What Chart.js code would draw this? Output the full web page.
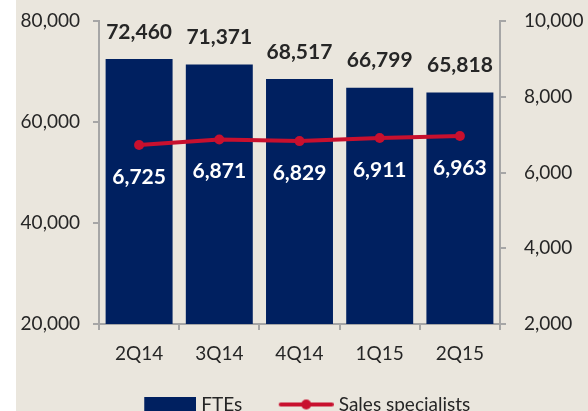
<!DOCTYPE html>
<html>
<head>
<meta charset="utf-8">
<script src="https://cdn.jsdelivr.net/npm/chart.js@4/dist/chart.umd.min.js"></script>
<style>
  html, body { margin: 0; padding: 0; background: #fff; overflow: hidden; }
  #wrap { position: absolute; left: 16px; top: 0; width: 572px; height: 425px; background: #EAE6DD; }
</style>
</head>
<body>
<div id="wrap"><canvas id="chart" width="572" height="425"></canvas></div>
<script>
const quarters = ["2Q14", "3Q14", "4Q14", "1Q15", "2Q15"];
const ftes = [72460, 71371, 68517, 66799, 65818];
const salesSpecialists = [6725, 6871, 6829, 6911, 6963];
const leftTicks = [20000, 40000, 60000, 80000];
const rightTicks = [2000, 4000, 6000, 8000, 10000];

const NAVY = "#002060";
const RED = "#C8102E";
const TEXT = "#262626";
const AXIS = "#A6A6A6";
const FONT = "Lato, 'Open Sans', sans-serif";

// legend swatches (transparent on the left so the marker sits close to its text)
function makeBox() {
  const c = document.createElement("canvas");
  c.width = 67; c.height = 15;
  const g = c.getContext("2d");
  g.fillStyle = NAVY;
  g.fillRect(15, 0, 52, 15);
  return c;
}
function makeLine() {
  const c = document.createElement("canvas");
  c.width = 67; c.height = 12;
  const g = c.getContext("2d");
  g.strokeStyle = RED; g.lineWidth = 4; g.lineCap = "round";
  g.beginPath(); g.moveTo(14, 6); g.lineTo(65, 6); g.stroke();
  g.fillStyle = RED;
  g.beginPath(); g.arc(39.5, 6, 5, 0, Math.PI * 2); g.fill();
  return c;
}

const valueLabels = {
  id: "valueLabels",
  afterDatasetsDraw(chart) {
    const ctx = chart.ctx;
    ctx.save();
    ctx.textAlign = "center";
    ctx.textBaseline = "middle";
    ctx.font = "bold 21px " + FONT;
    chart.getDatasetMeta(0).data.forEach((bar, i) => {
      ctx.fillStyle = TEXT;
      ctx.fillText(ftes[i].toLocaleString("en-US"), bar.x, bar.y - 27);
    });
    chart.getDatasetMeta(1).data.forEach((pt, i) => {
      ctx.fillStyle = "#fff";
      ctx.fillText(salesSpecialists[i].toLocaleString("en-US"), pt.x, pt.y + 32);
    });
    ctx.restore();
  },
};

// y axes: fixed width, no extra vertical padding from tick padding
function fitY(width) {
  return (s) => {
    s.width = width;
    s.paddingTop = 0;
    s.paddingBottom = 0;
  };
}

const ctx = document.getElementById("chart").getContext("2d");
new Chart(ctx, {
  type: "bar",
  data: {
    labels: quarters,
    datasets: [
      {
        label: "FTEs",
        data: ftes,
        backgroundColor: NAVY,
        barPercentage: 0.835,
        categoryPercentage: 1,
        yAxisID: "y",
        order: 1,
      },
      {
        type: "line",
        label: "Sales specialists",
        data: salesSpecialists,
        borderColor: RED,
        backgroundColor: RED,
        borderWidth: 4,
        pointRadius: 5,
        pointBackgroundColor: RED,
        pointBorderWidth: 0,
        yAxisID: "y1",
        order: 0,
      },
    ],
  },
  options: {
    responsive: false,
    animation: false,
    layout: { padding: { top: 21, left: 0, right: 0, bottom: 1 } },
    plugins: {
      tooltip: { enabled: false },
      legend: {
        position: "bottom",
        labels: {
          usePointStyle: true,
          pointStyleWidth: 58,
          padding: 29,
          color: TEXT,
          font: { family: FONT, size: 19 },
          sort: (a, b) => a.datasetIndex - b.datasetIndex,
          generateLabels(chart) {
            const items = Chart.defaults.plugins.legend.labels.generateLabels(chart);
            items.forEach((it) => {
              it.pointStyle = it.datasetIndex === 0 ? makeBox() : makeLine();
            });
            return items;
          },
        },
      },
    },
    scales: {
      x: {
        afterFit: (s) => { s.height = 42; },
        grid: { display: true, drawOnChartArea: false, drawTicks: true, tickLength: 6, color: AXIS, lineWidth: 2, offset: true },
        border: { display: true, color: AXIS, width: 2 },
        ticks: { color: TEXT, font: { family: FONT, size: 19 }, padding: 12 },
      },
      y: {
        position: "left",
        min: leftTicks[0],
        max: leftTicks[leftTicks.length - 1],
        afterFit: fitY(83),
        afterBuildTicks: (s) => { s.ticks = leftTicks.map((v) => ({ value: v })); },
        grid: { display: true, drawOnChartArea: false, drawTicks: true, tickLength: 6, color: AXIS, lineWidth: 2 },
        border: { display: true, color: AXIS, width: 2 },
        ticks: { color: TEXT, font: { family: FONT, size: 19 }, padding: 13 },
      },
      y1: {
        position: "right",
        min: rightTicks[0],
        max: rightTicks[rightTicks.length - 1],
        afterFit: fitY(88),
        afterBuildTicks: (s) => { s.ticks = rightTicks.map((v) => ({ value: v })); },
        grid: { display: true, drawOnChartArea: false, drawTicks: true, tickLength: 6, color: AXIS, lineWidth: 2 },
        border: { display: true, color: AXIS, width: 2 },
        ticks: { color: TEXT, font: { family: FONT, size: 19 }, padding: 18 },
      },
    },
  },
  plugins: [valueLabels],
});
</script>
</body>
</html>
